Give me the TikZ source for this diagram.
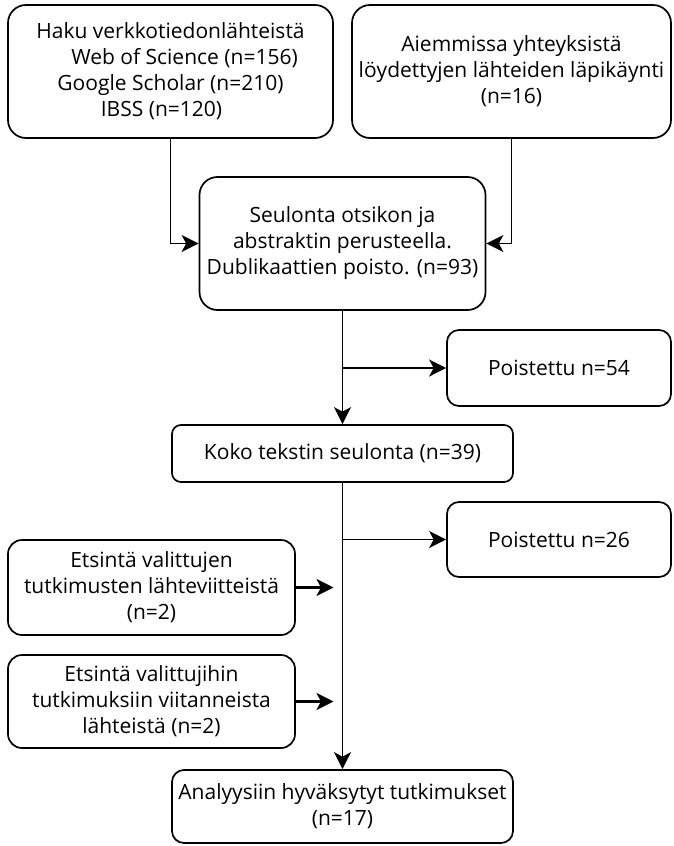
\documentclass[tikz,border=0pt]{standalone}
\usepackage{fontspec}
\setmainfont{Open Sans}
\usetikzlibrary{arrows.meta,calc}

\begin{document}
\begin{tikzpicture}[x=1pt, y=-1pt,
    stage/.style={draw, line width=1.7pt, rounded corners=#1, align=center,
                  font=\fontsize{21}{26}\selectfont, inner sep=0pt},
    stage/.default=18pt,
    flow/.style={-{Stealth[length=17pt, width=17pt, inset=4.5pt]},
                 line width=1.7pt},
]
\useasboundingbox (0,0) rectangle (674,846);

\node[stage, minimum width=325pt, minimum height=133pt]
    (haku) at (170.5,71.5) {Haku verkkotiedonlähteistä\\
    \hspace*{28pt}Web of Science (n=156)\\
    Google Scholar (n=210)\hspace*{14pt}\\
    IBSS (n=120)\hspace*{18pt}};
\node[stage, minimum width=319pt, minimum height=133pt]
    (aiemm) at (511.5,71.5) {Aiemmissa yhteyksistä\\
    löydettyjen lähteiden läpikäynti\\(n=16)};
\node[stage, minimum width=286pt, minimum height=133pt]
    (seul) at (342.5,243.5) {Seulonta otsikon ja\\
    abstraktin perusteella.\\Dublikaattien poisto. (n=93)};
\node[stage=12pt, minimum width=224pt, minimum height=76pt]
    (pois1) at (559,368) {Poistettu n=54};
\node[stage=9pt, minimum width=341pt, minimum height=57pt]
    (koko) at (342.5,453.5) {Koko tekstin seulonta (n=39)};
\node[stage=12pt, minimum width=224pt, minimum height=75pt]
    (pois2) at (559,539.5) {Poistettu n=26};
\node[stage=14pt, minimum width=287pt, minimum height=95pt]
    (viit) at (151.5,587.5) {Etsintä valittujen\\
    tutkimusten lähteviitteistä\\(n=2)};
\node[stage=14pt, minimum width=287pt, minimum height=93pt]
    (viitt) at (151.5,701.5) {Etsintä valittujihin\\
    tutkimuksiin viitanneista\\lähteistä (n=2)};
\node[stage=12pt, minimum width=341pt, minimum height=73pt]
    (anal) at (342.5,806.5) {Analyysiin hyväksytyt tutkimukset\\(n=17)};

\coordinate (fork1) at (seul.south |- pois1.west);
\coordinate (fork2) at (koko.south |- pois2.west);
\coordinate (join1) at ($(koko.south |- viit.east)+(-9,0)$);
\coordinate (join2) at ($(koko.south |- viitt.east)+(-9,0)$);

\draw[flow] (haku.south) |- (seul.west);
\draw[flow] (aiemm.south) |- (seul.east);
\draw[flow] (seul.south) -- (koko.north);
\draw[flow] (fork1) -- (pois1.west);
\draw[flow] (koko.south) -- (anal.north);
\draw[flow] (fork2) -- (pois2.west);
\draw[flow, line width=2.5pt] (viit.east) -- (join1);
\draw[flow, line width=2.5pt] (viitt.east) -- (join2);
\end{tikzpicture}
\end{document}
